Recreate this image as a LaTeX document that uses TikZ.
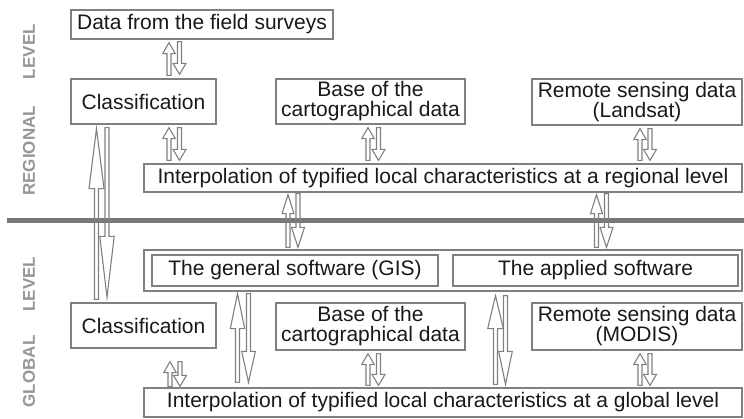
\documentclass[tikz,border=0pt]{standalone}
\usepackage{fontspec}
\setmainfont{Liberation Sans}
\usetikzlibrary{calc}
\definecolor{boxgray}{RGB}{128,128,128}
\definecolor{bargray}{RGB}{120,120,120}
\definecolor{labgray}{RGB}{150,150,150}
\definecolor{txt}{RGB}{25,25,25}
\def\sw{2pt}
% up arrow: #1 x, #2 lower node anchor, #3 gap there, #4 upper node anchor, #5 gap there, #6 head length, #7 head half-width
\newcommand\arrup[7]{%
  \draw[hollow] let \p1=(#2), \p2=(#4) in
   (#1pt-\sw,\y1+#3pt) -- (#1pt-\sw,\y2-#5pt-#6pt) -- (#1pt-#7pt,\y2-#5pt-#6pt) --
   (#1pt,\y2-#5pt) -- (#1pt+#7pt,\y2-#5pt-#6pt) -- (#1pt+\sw,\y2-#5pt-#6pt) --
   (#1pt+\sw,\y1+#3pt) -- cycle;}
% down arrow: #1 x, #2 upper node anchor, #3 gap, #4 lower node anchor, #5 gap, #6 head length, #7 head half-width
\newcommand\arrdown[7]{%
  \draw[hollow] let \p1=(#2), \p2=(#4) in
   (#1pt-\sw,\y1-#3pt) -- (#1pt-\sw,\y2+#5pt+#6pt) -- (#1pt-#7pt,\y2+#5pt+#6pt) --
   (#1pt,\y2+#5pt) -- (#1pt+#7pt,\y2+#5pt+#6pt) -- (#1pt+\sw,\y2+#5pt+#6pt) --
   (#1pt+\sw,\y1-#3pt) -- cycle;}
\begin{document}
\begin{tikzpicture}[x=1pt,y=-1pt,
  bx/.style={draw=boxgray, line width=1.3pt, inner sep=0pt, text=txt,
     font=\fontsize{21}{20}\selectfont, align=center},
  hollow/.style={draw=boxgray, line width=1.1pt, line join=miter},
  lvl/.style={text=labgray, rotate=90, inner sep=0pt,
     font=\fontsize{17}{17}\selectfont\bfseries}]
\useasboundingbox (0,0) rectangle (744,419);
\fill[white] (0,0) rectangle (744,419);

% separating bar
\coordinate (barL) at (7,221);
\coordinate (barR) at (744,221);
\draw[bargray, line width=5pt] (barL) -- (barR);

% level labels
\node[lvl] (reg) at (29,110) {REGIONAL\hspace{27pt}LEVEL};
\node[lvl] (glo) at (29,332) {GLOBAL\hspace{24pt}LEVEL};

% regional boxes
\node[bx, minimum width=262pt, minimum height=29pt] (field) at (202,24.5) {Data from the field surveys};
\node[bx, minimum width=145pt, minimum height=45pt] (class1) at (143.5,101.5) {Classification};
\node[bx, minimum width=189pt, minimum height=45pt] (base1) at (370.5,101.5) {Base of the\\cartographical data};
\node[bx, minimum width=210pt, minimum height=46pt] (rs1) at (637,102) {Remote sensing data\\(Landsat)};
\node[bx, minimum width=598pt, minimum height=28pt] (interp1) at (443,178) {Interpolation of typified local characteristics at a regional level};

% global boxes
\node[bx, minimum width=598pt, minimum height=41pt] (soft) at (443,270.5) {};
\node[bx, minimum width=286pt, minimum height=31pt] (gis) at (295,270.5) {The general software (GIS)};
\node[bx, minimum width=285pt, minimum height=31pt] (applied) at (595.5,270.5) {The applied software};
\node[bx, minimum width=145pt, minimum height=45pt] (class2) at (143.5,325.5) {Classification};
\node[bx, minimum width=189pt, minimum height=47pt] (base2) at (370.5,326.5) {Base of the\\cartographical data};
\node[bx, minimum width=210pt, minimum height=47pt] (rs2) at (637,326.5) {Remote sensing data\\(MODIS)};
\node[bx, minimum width=598pt, minimum height=29pt] (interp2) at (443,402.5) {Interpolation of typified local characteristics at a global level};

% regional arrows
\arrup{169}{class1.north}{3}{field.south}{3}{11}{6.3}
\arrdown{179.5}{field.south}{2}{class1.north}{4}{11}{6.5}
\arrup{169}{interp1.north}{3}{class1.south}{3}{11}{6.3}
\arrdown{179.5}{class1.south}{3}{interp1.north}{3}{11}{6.5}
\arrup{368}{interp1.north}{3}{base1.south}{3}{11}{6.3}
\arrdown{378.5}{base1.south}{3}{interp1.north}{3}{11}{6.5}
\arrup{640}{interp1.north}{3}{rs1.south}{3}{11}{6.3}
\arrdown{650}{rs1.south}{3}{interp1.north}{3}{11}{6.5}

% long arrows between the classifications
\arrup{96.5}{class2.north}{3}{class1.south}{4}{60}{7.5}
\arrdown{107}{class1.south}{3}{class2.north}{5}{61}{7.2}

% arrows through the bar
\arrup{288}{soft.north}{2}{interp1.south}{2}{19}{6}
\arrdown{298}{interp1.south}{1}{soft.north}{2}{20}{6.5}
\arrup{596.5}{soft.north}{2}{interp1.south}{2}{19}{6}
\arrdown{606.5}{interp1.south}{1}{soft.north}{2}{20}{6.5}

% global arrows
\arrup{237.5}{interp2.north}{5}{soft.south}{2}{35}{7.2}
\arrdown{248.5}{soft.south}{2}{interp2.north}{5}{31}{6.8}
\arrup{495.5}{interp2.north}{3}{soft.south}{4}{33}{7.8}
\arrdown{505.5}{soft.south}{4}{interp2.north}{3}{33}{6.8}
\arrup{170}{interp2.north}{1}{class2.south}{13}{11}{6.3}
\arrdown{180}{class2.south}{13}{interp2.north}{1}{11}{6.5}
\arrup{368}{interp2.north}{2}{base2.south}{3}{11}{6.3}
\arrdown{378.5}{base2.south}{3}{interp2.north}{2}{11}{6.5}
\arrup{640}{interp2.north}{2}{rs2.south}{3}{11}{6.3}
\arrdown{650}{rs2.south}{3}{interp2.north}{2}{11}{6.5}
\end{tikzpicture}
\end{document}
